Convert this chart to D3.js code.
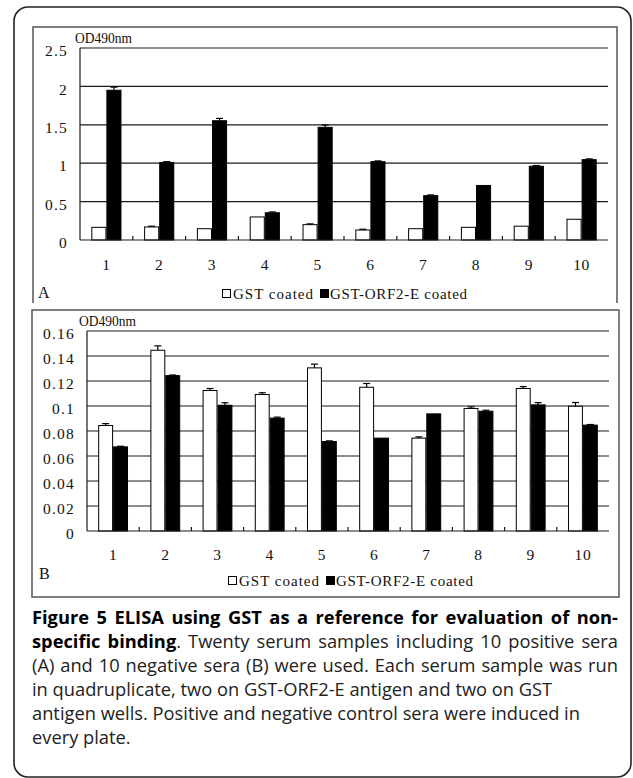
<!DOCTYPE html>
<html><head><meta charset="utf-8">
<script src="https://cdn.jsdelivr.net/npm/d3@7"></script>
<style>
html,body{margin:0;padding:0;background:#fff;}
svg{display:block;}
</style></head>
<body>
<svg id="fig" width="633" height="778"></svg>
<script>
// ---------- data ----------
const categories = ["1","2","3","4","5","6","7","8","9","10"];
const seriesNames = ["GST coated","GST-ORF2-E coated"];

const gstA = [0.165, 0.17, 0.147, 0.30, 0.20, 0.13, 0.147, 0.165, 0.18, 0.27];
const orfA = [1.95, 1.01, 1.553, 0.355, 1.467, 1.02, 0.577, 0.71, 0.96, 1.046];
const gstErrA = [0, 0.01, 0, 0, 0.01, 0.01, 0, 0, 0, 0];
const orfErrA = [0.04, 0.01, 0.03, 0.01, 0.03, 0.01, 0.01, 0, 0.01, 0.01];
const yTicksA = [0, 0.5, 1, 1.5, 2, 2.5];

const gstB = [0.0844, 0.1446, 0.1124, 0.1092, 0.1305, 0.115, 0.0743, 0.098, 0.114, 0.0998];
const orfB = [0.0673, 0.1243, 0.1006, 0.0903, 0.0716, 0.0743, 0.0937, 0.0958, 0.1009, 0.0847];
const gstErrB = [0.0015, 0.0035, 0.0016, 0.0014, 0.003, 0.003, 0.001, 0.0013, 0.0015, 0.003];
const orfErrB = [0.0005, 0.0005, 0.002, 0.0008, 0.0005, 0, 0, 0.0008, 0.0018, 0.0005];
const yTicksB = [0, 0.02, 0.04, 0.06, 0.08, 0.1, 0.12, 0.14, 0.16];

const yLabel = "OD490nm";
const captionLines = [
  [{t:"Figure 5 ELISA using GST as a reference for evaluation of non-", b:true}],
  [{t:"specific binding", b:true},{t:". Twenty serum samples including 10 positive sera", b:false}],
  [{t:"(A) and 10 negative sera (B) were used. Each serum sample was run", b:false}],
  [{t:"in quadruplicate, two on GST-ORF2-E antigen and two on GST", b:false}],
  [{t:"antigen wells. Positive and negative control sera were induced in", b:false}],
  [{t:"every plate.", b:false}]
];

// ---------- drawing ----------
const svg = d3.select("#fig");
const chartFont = "'Liberation Serif', 'DejaVu Serif', serif";

// outer rounded frame
svg.append("rect").attr("x",14).attr("y",7).attr("width",617).attr("height",770)
  .attr("rx",14).attr("fill","none").attr("stroke","#222").attr("stroke-width",1.6);

function panel(cfg){
  const g = svg.append("g");
  if(cfg.openBottom){
    g.append("path").attr("d",`M${cfg.box[0]},${cfg.box[3]}V${cfg.box[1]}H${cfg.box[2]}V${cfg.box[3]}`)
      .attr("fill","none").attr("stroke","#555").attr("stroke-width",1.5);
  } else {
    g.append("rect").attr("x",cfg.box[0]).attr("y",cfg.box[1])
      .attr("width",cfg.box[2]-cfg.box[0]).attr("height",cfg.box[3]-cfg.box[1])
      .attr("fill","none").attr("stroke","#555").attr("stroke-width",1.5);
  }
  const x0 = d3.scaleBand().domain(categories).range([cfg.left,cfg.right])
    .paddingInner(0.4286).paddingOuter(0.2143);
  const x1 = d3.scaleBand().domain([0,1]).range([0,x0.bandwidth()]).padding(0);
  const y = d3.scaleLinear().domain([0,cfg.yMax]).range([cfg.bottom,cfg.top]);

  // gridlines
  g.append("g").selectAll("line").data(cfg.yTicks.filter(v=>v>0)).join("line")
    .attr("x1",cfg.left).attr("x2",cfg.right)
    .attr("y1",d=>y(d)).attr("y2",d=>y(d))
    .attr("stroke","#1a1a1a").attr("stroke-width",1.2);

  // y axis labels
  const ya = g.append("g").attr("transform",`translate(${cfg.left},0)`)
    .call(d3.axisLeft(y).tickValues(cfg.yTicks).tickFormat(d=>String(d)).tickSize(0).tickPadding(cfg.yPad));
  ya.select(".domain").remove();
  ya.selectAll("text").attr("font-family",chartFont).attr("font-size",15.5).attr("fill","#111")
    .attr("letter-spacing",1.2).attr("dy","0.5em");

  // bars
  const rows = categories.map((c,i)=>({c, vals:[cfg.gst[i],cfg.orf[i]], errs:[cfg.gstErr[i],cfg.orfErr[i]]}));
  const grp = g.append("g").selectAll("g").data(rows).join("g")
    .attr("transform",d=>`translate(${x0(d.c)},0)`);
  grp.selectAll("rect").data(d=>d.vals.map((v,k)=>({v,k}))).join("rect")
    .attr("x",d=>x1(d.k)+0.5).attr("width",x1.bandwidth()-1)
    .attr("y",d=>y(d.v)).attr("height",d=>y(0)-y(d.v))
    .attr("fill",d=>d.k===0?"#fff":"#000").attr("stroke","#000").attr("stroke-width",1);
  const eb = grp.selectAll("g.err").data(d=>d.vals.map((v,k)=>({v,k,e:d.errs[k]})).filter(d=>d.e>0)).join("g").attr("class","err");
  eb.append("line").attr("x1",d=>x1(d.k)+x1.bandwidth()/2).attr("x2",d=>x1(d.k)+x1.bandwidth()/2)
    .attr("y1",d=>y(d.v)).attr("y2",d=>y(d.v+d.e)).attr("stroke","#000").attr("stroke-width",1.2);
  eb.append("line").attr("x1",d=>x1(d.k)+x1.bandwidth()/2-3.5).attr("x2",d=>x1(d.k)+x1.bandwidth()/2+3.5)
    .attr("y1",d=>y(d.v+d.e)).attr("y2",d=>y(d.v+d.e)).attr("stroke","#000").attr("stroke-width",1.2);

  // y axis line and baseline
  g.append("line").attr("x1",cfg.left).attr("x2",cfg.left).attr("y1",cfg.top).attr("y2",cfg.bottom)
    .attr("stroke","#1a1a1a").attr("stroke-width",1.2);
  g.append("line").attr("x1",cfg.left).attr("x2",cfg.right).attr("y1",cfg.bottom).attr("y2",cfg.bottom)
    .attr("stroke","#1a1a1a").attr("stroke-width",1.2);
  const bounds = categories.slice(1).map((c,i)=>cfg.left + (i+1)*x0.step());
  g.append("g").selectAll("line").data(bounds).join("line")
    .attr("x1",d=>d).attr("x2",d=>d).attr("y1",cfg.bottom).attr("y2",cfg.bottom-4)
    .attr("stroke","#1a1a1a").attr("stroke-width",1.2);

  // x axis labels
  const xa = g.append("g").attr("transform",`translate(0,${cfg.bottom})`)
    .call(d3.axisBottom(x0).tickSize(0).tickPadding(cfg.xPad));
  xa.select(".domain").remove();
  xa.selectAll("text").attr("font-family",chartFont).attr("font-size",15.5).attr("fill","#111")
    .attr("letter-spacing",0.6);

  // y label
  g.append("text").attr("x",cfg.yLabelPos[0]).attr("y",cfg.yLabelPos[1]).text(yLabel)
    .attr("font-family",chartFont).attr("font-size",14).attr("fill","#111")
    .attr("textLength",57).attr("lengthAdjust","spacingAndGlyphs");

  // panel letter
  g.append("text").attr("x",cfg.letterPos[0]).attr("y",cfg.letterPos[1]).text(cfg.letter)
    .attr("font-family",chartFont).attr("font-size",16).attr("fill","#111");

  // legend
  const lx = cfg.legendPos[0], ly = cfg.legendPos[1];
  g.append("rect").attr("x",lx+0.5).attr("y",ly-9.5).attr("width",8).attr("height",8)
    .attr("fill","#fff").attr("stroke","#000").attr("stroke-width",1);
  g.append("text").attr("x",lx+11).attr("y",ly).text(seriesNames[0])
    .attr("font-family",chartFont).attr("font-size",15).attr("fill","#111")
    .attr("textLength",80).attr("lengthAdjust","spacing");
  g.append("rect").attr("x",lx+98).attr("y",ly-10).attr("width",9).attr("height",9).attr("fill","#000");
  g.append("text").attr("x",lx+108).attr("y",ly).text(seriesNames[1])
    .attr("font-family",chartFont).attr("font-size",15).attr("fill","#111")
    .attr("textLength",137).attr("lengthAdjust","spacing");
}

panel({box:[33,27,617,303], openBottom:true, left:80, right:608, top:48, bottom:240,
  yMax:2.5, yTicks:yTicksA, gst:gstA, orf:orfA, gstErr:gstErrA, orfErr:orfErrA,
  yPad:12, xPad:19, yLabelPos:[75,43], letter:"A", letterPos:[38,298], legendPos:[222,299]});

panel({box:[32,310,619,597], openBottom:false, left:87, right:609, top:331, bottom:531,
  yMax:0.16, yTicks:yTicksB, gst:gstB, orf:orfB, gstErr:gstErrB, orfErr:orfErrB,
  yPad:12, xPad:18, yLabelPos:[79,326], letter:"B", letterPos:[39,579], legendPos:[228,586]});

// caption
const capX = 32, capRight = 618, capY0 = 624, capDY = 24;
const capFont = "'Open Sans', 'Noto Sans', sans-serif";
captionLines.forEach((segs,i)=>{
  const t = svg.append("text").attr("x",capX).attr("y",capY0+i*capDY)
    .attr("font-family",capFont).attr("font-size",18.3);
  segs.forEach(s=>{
    t.append("tspan").text(s.t).attr("font-weight",s.b?700:400).attr("fill",s.b?"#000":"#222");
  });
  if(i<3){
    const w = t.node().getComputedTextLength();
    const full = segs.map(s=>s.t).join("");
    const spaces = (full.match(/ /g)||[]).length;
    const extra = (capRight-capX-w)/spaces;
    t.attr("word-spacing",extra);
  }
});
</script>
</body></html>
